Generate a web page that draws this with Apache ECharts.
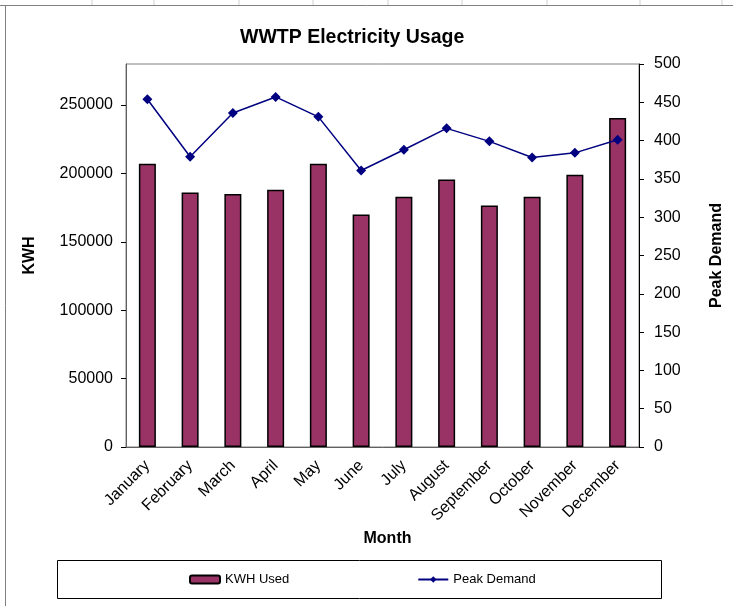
<!DOCTYPE html>
<html>
<head>
<meta charset="utf-8">
<script src="https://cdn.jsdelivr.net/npm/echarts@6/dist/echarts.min.js"></script>
<style>
  html, body { margin: 0; padding: 0; background: #fff; }
  #chart { width: 733px; height: 606px; }
</style>
</head>
<body>
<div id="chart"></div>
<script>
// data
var months = ['January', 'February', 'March', 'April', 'May', 'June',
              'July', 'August', 'September', 'October', 'November', 'December'];
var kwhUsed = [207000, 186000, 185000, 188000, 207000, 170000,
               183000, 195500, 176500, 183000, 199000, 240500];
var peakDemand = [454, 379, 436, 457, 431, 361, 388, 416, 399, 378, 384, 401];

var font = 'Arial, "Liberation Sans", sans-serif';
var chart = echarts.init(document.getElementById('chart'));

// spreadsheet cell lines peeking above the chart frame
var cellLines = [92, 154, 239, 313, 388, 462, 547, 640, 722].map(function (x) {
  return { type: 'line', shape: { x1: x, y1: 0, x2: x, y2: 5 }, style: { stroke: '#d0d0d0', lineWidth: 1 } };
});

var option = {
  animation: false,
  title: {
    text: 'WWTP Electricity Usage',
    left: 240, top: 28, padding: 0,
    textStyle: { fontFamily: font, fontSize: 19.5, fontWeight: 'bold', color: '#000' }
  },
  graphic: cellLines.concat([
    { type: 'line', shape: { x1: 0, y1: 5.5, x2: 733, y2: 5.5 }, style: { stroke: '#808080', lineWidth: 1 } },
    { type: 'line', shape: { x1: 5.5, y1: 5, x2: 5.5, y2: 606 }, style: { stroke: '#808080', lineWidth: 1 } },
    { type: 'rect', shape: { x: 57.5, y: 560.5, width: 604, height: 38 }, style: { fill: 'none', stroke: '#000', lineWidth: 1 } }
  ]),
  legend: {
    left: 189, top: 573, padding: 0,
    itemGap: 128, itemWidth: 30, itemHeight: 8,
    textStyle: { fontFamily: font, fontSize: 13, color: '#000' },
    data: ['KWH Used', 'Peak Demand']
  },
  grid: {
    left: 126, right: 94, top: 64, bottom: 159,
    show: true, borderColor: '#808080', borderWidth: 1
  },
  xAxis: {
    type: 'category',
    data: months,
    name: 'Month', nameLocation: 'middle', nameGap: 84,
    nameTextStyle: { fontFamily: font, fontSize: 16, fontWeight: 'bold', color: '#000', padding: [0, 0, 0, 10] },
    axisLine: { lineStyle: { color: '#606060' } },
    axisTick: { interval: 0, length: 5, lineStyle: { color: '#000' } },
    axisLabel: { interval: 0, rotate: 45, margin: 16, fontFamily: font, fontSize: 16, color: '#000' }
  },
  yAxis: [{
    type: 'value',
    min: 0, max: 280000, interval: 50000,
    name: 'KWH', nameLocation: 'middle', nameGap: 88,
    nameTextStyle: { fontFamily: font, fontSize: 16, fontWeight: 'bold', color: '#000' },
    axisLine: { show: true, lineStyle: { color: '#606060' } },
    axisTick: { show: true, length: 5, lineStyle: { color: '#000' } },
    axisLabel: {
      showMaxLabel: false, margin: 13, fontFamily: font, fontSize: 16, color: '#000',
      formatter: function (v) { return String(v); }
    },
    splitLine: { show: false }
  }, {
    type: 'value',
    min: 0, max: 500, interval: 50,
    name: 'Peak Demand', nameLocation: 'middle', nameGap: 70, nameRotate: 90,
    nameTextStyle: { fontFamily: font, fontSize: 16, fontWeight: 'bold', color: '#000' },
    axisLine: { show: true, lineStyle: { color: '#000' } },
    axisTick: { show: true, length: 5, lineStyle: { color: '#000' } },
    axisLabel: { margin: 15, fontFamily: font, fontSize: 16, color: '#000' },
    splitLine: { show: false }
  }],
  series: [{
    name: 'KWH Used',
    type: 'bar',
    yAxisIndex: 0,
    barWidth: 17,
    itemStyle: { color: '#993366', borderColor: '#000', borderWidth: 1.5 },
    data: kwhUsed
  }, {
    name: 'Peak Demand',
    type: 'line',
    yAxisIndex: 1,
    symbol: 'diamond', symbolSize: 10,
    lineStyle: { color: '#000080', width: 1.5 },
    itemStyle: { color: '#000080' },
    data: peakDemand
  }]
};
chart.setOption(option);
</script>
</body>
</html>
